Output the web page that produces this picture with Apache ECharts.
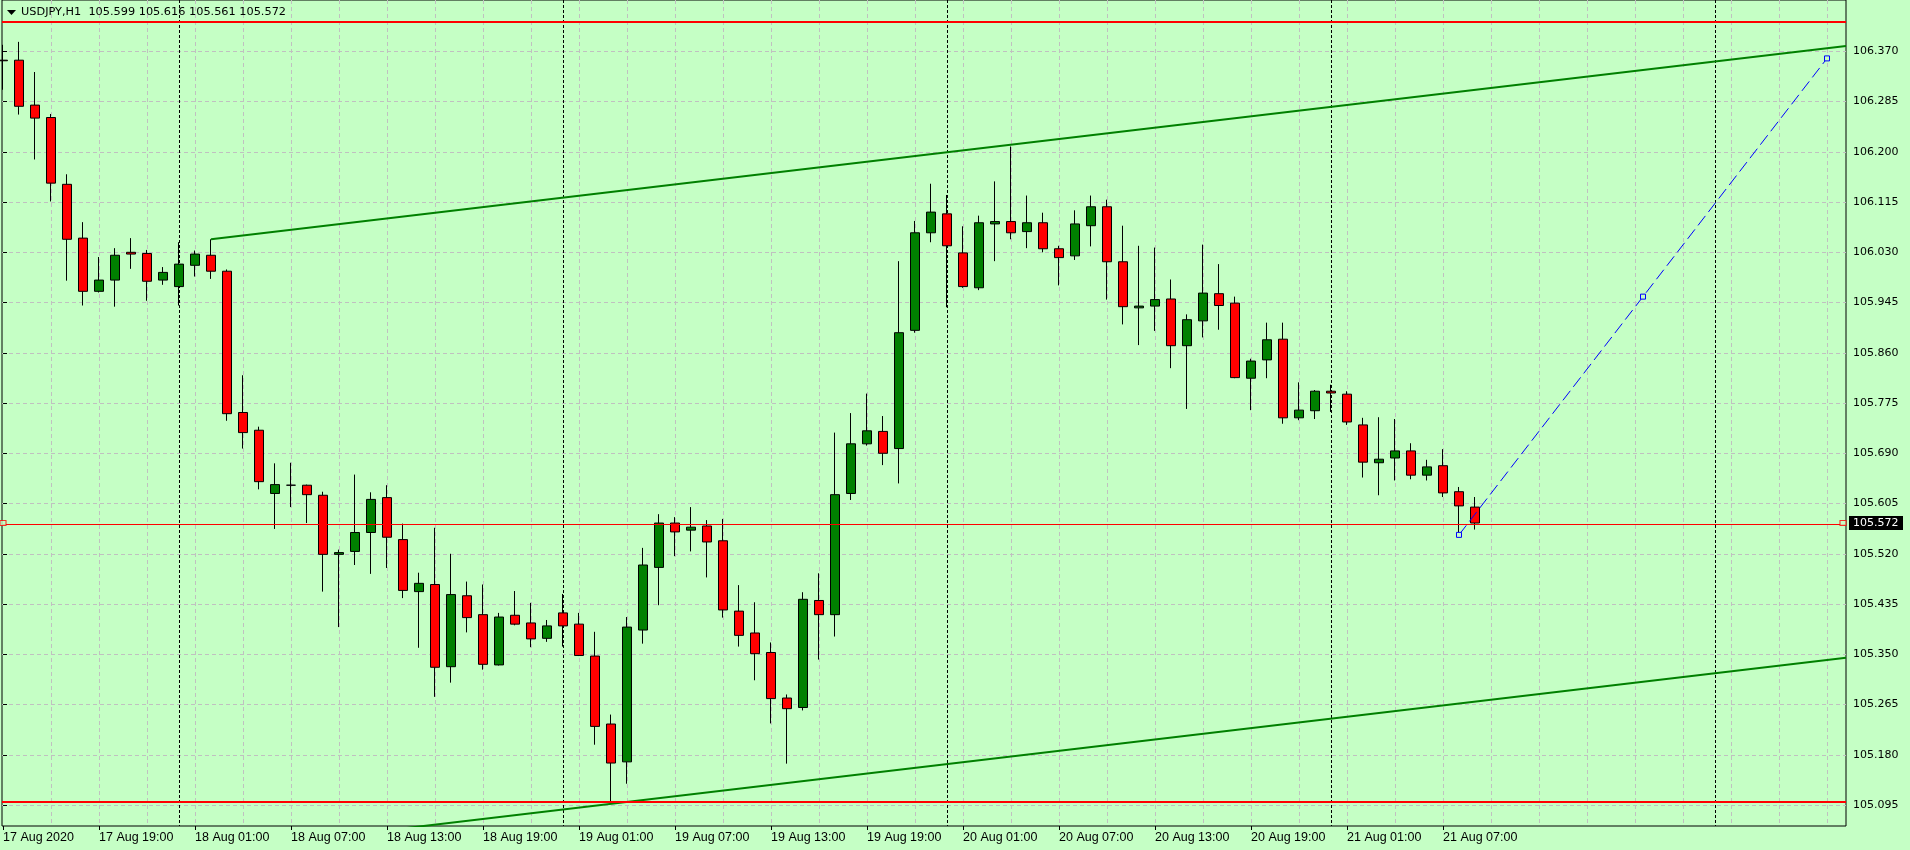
<!DOCTYPE html>
<html>
<head>
<meta charset="utf-8">
<script src="https://cdn.jsdelivr.net/npm/echarts@6/dist/echarts.min.js"></script>
<style>
html,body{margin:0;padding:0;background:#c5ffc5;}
#chart{width:1910px;height:850px;}
</style>
</head>
<body>
<div id="chart"></div>
<script>
// ---------- DATA ----------
const symbolName = 'USDJPY,H1';
// H1 bars, index 0 = 17 Aug 2020 13:00
const opens = [106.355,106.355,106.279,106.258,106.145,106.054,105.964,105.983,106.030,106.028,
105.983,105.972,106.008,106.025,105.998,105.759,105.729,105.622,105.636,105.636,
105.619,105.519,105.524,105.556,105.615,105.544,105.456,105.468,105.329,105.449,
105.417,105.332,105.416,105.403,105.377,105.420,105.401,105.347,105.232,105.168,
105.391,105.497,105.572,105.560,105.567,105.542,105.423,105.386,105.353,105.276,
105.260,105.441,105.417,105.622,105.706,105.727,105.698,105.898,106.063,106.095,
106.029,105.970,106.078,106.082,106.065,106.080,106.036,106.024,106.075,106.107,
106.014,105.936,105.939,105.951,105.872,105.914,105.960,105.944,105.817,105.848,
105.883,105.750,105.762,105.795,105.790,105.738,105.674,105.682,105.694,105.653,
105.669,105.625,105.599];
const highs = [106.381,106.386,106.335,106.264,106.162,106.081,106.022,106.037,106.054,106.034,
106.005,106.047,106.033,106.052,106.001,105.822,105.735,105.673,105.674,105.637,
105.625,105.527,105.654,105.624,105.636,105.571,105.488,105.564,105.520,105.473,
105.468,105.420,105.457,105.437,105.408,105.452,105.420,105.388,105.248,105.413,
105.530,105.587,105.582,105.599,105.577,105.579,105.467,105.438,105.370,105.282,
105.455,105.487,105.725,105.758,105.791,105.753,106.015,106.083,106.146,106.127,
106.074,106.092,106.150,106.209,106.126,106.097,106.041,106.101,106.126,106.119,
106.075,106.041,106.038,105.984,105.925,106.043,106.010,105.955,105.850,105.911,
105.911,105.810,105.797,105.806,105.795,105.750,105.751,105.748,105.707,105.679,
105.697,105.633,105.616];
const lows = [106.305,106.263,106.187,106.116,105.982,105.940,105.962,105.938,106.002,105.948,
105.975,105.940,105.989,105.985,105.745,105.698,105.629,105.562,105.599,105.572,
105.456,105.396,105.501,105.486,105.496,105.445,105.361,105.278,105.302,105.387,
105.324,105.331,105.399,105.362,105.371,105.363,105.347,105.197,105.097,105.131,
105.368,105.433,105.516,105.524,105.480,105.412,105.363,105.306,105.233,105.165,
105.255,105.341,105.380,105.611,105.703,105.670,105.639,105.894,106.047,105.937,
105.970,105.966,106.015,106.052,106.037,106.030,105.974,106.017,106.040,105.950,
105.908,105.873,105.897,105.834,105.765,105.886,105.899,105.817,105.763,105.817,
105.740,105.746,105.748,105.760,105.738,105.649,105.619,105.644,105.646,105.644,
105.616,105.552,105.561];
const closes = [106.354,106.277,106.257,106.147,106.052,105.964,105.983,106.025,106.027,105.981,
105.996,106.010,106.027,105.998,105.757,105.725,105.642,105.637,105.636,105.620,
105.519,105.522,105.556,105.612,105.548,105.458,105.470,105.328,105.451,105.412,
105.333,105.413,105.401,105.376,105.398,105.398,105.348,105.228,105.166,105.396,
105.501,105.572,105.557,105.565,105.540,105.425,105.382,105.351,105.275,105.258,
105.443,105.417,105.620,105.706,105.728,105.690,105.894,106.063,106.098,106.041,
105.972,106.080,106.082,106.063,106.080,106.036,106.021,106.078,106.107,106.014,
105.938,105.939,105.950,105.872,105.916,105.961,105.940,105.818,105.846,105.882,
105.750,105.763,105.795,105.792,105.743,105.675,105.680,105.694,105.653,105.667,
105.623,105.601,105.572];

// time axis labels (bar index -> label)
const tickBars = [0,6,12,18,24,30,36,42,48,54,60,66,72,78,84,90];
const tickLabels = ['17 Aug 2020','17 Aug 19:00','18 Aug 01:00','18 Aug 07:00','18 Aug 13:00',
  '18 Aug 19:00','19 Aug 01:00','19 Aug 07:00','19 Aug 13:00','19 Aug 19:00','20 Aug 01:00',
  '20 Aug 07:00','20 Aug 13:00','20 Aug 19:00','21 Aug 01:00','21 Aug 07:00'];
// vertical grid every 3 bars, day separators at 00:00 bars
const gridBars = [3,6,9,12,15,18,21,24,27,30,33,36,39,42,45,48,51,54,57,60,63,66,69,72,75,78,
  81,84,87,90,93,96,99,102,105,108,111,114];
const daySeparatorBars = [11,35,59,83,107];
// price scale labels
const priceTicks = [105.095,105.180,105.265,105.350,105.435,105.520,105.605,105.690,105.775,
  105.860,105.945,106.030,106.115,106.200,106.285,106.370];
// horizontal levels
const levelLines = [106.423, 105.097];
// channel (two parallel trend lines) and blue dashed trend line: [bar, price]
const channelUpper = [[13,106.052],[115.1875,106.379]];
const channelLower = [[13,105.017],[115.1875,105.344]];
const blueTrend = [[91,105.552],[102.5,105.955],[114,106.358]];
const priceLineEnds = [0, 115];

// ---------- CHART ----------
const BG = '#c5ffc5';
const X_MIN = -0.0625, X_MAX = 115.1875;
const Y_MIN = 105.0595, Y_MAX = 106.4568;
const last = opens.length - 1;
const lastClose = closes[last];
const candleData = opens.map((o, i) => [i, o, closes[i], lows[i], highs[i]]);
const titleText = symbolName + '  ' + [opens[last], highs[last], lows[last], closes[last]].map(v => v.toFixed(3)).join(' ');

const chart = echarts.init(document.getElementById('chart'), null, {renderer: 'canvas'});
const xBase = {type: 'value', min: X_MIN, max: X_MAX, gridIndex: 0};
chart.setOption({
  animation: false,
  backgroundColor: BG,
  title: {
    text: titleText, left: 21, top: 6, padding: 0,
    textStyle: {fontFamily: 'DejaVu Sans', fontSize: 11.3, fontWeight: 'normal', color: '#000', lineHeight: 13}
  },
  graphic: {elements: [
    {id: 'menuTri', type: 'polygon', shape: {points: [[7,10],[16,10],[11.5,15]]}, style: {fill: '#000'}, z: 100}
  ]},
  grid: {left: 2, top: 0, width: 1844, height: 826, show: true, borderColor: '#000', borderWidth: 1,
         backgroundColor: 'transparent', containLabel: false, outerBoundsMode: 'none'},
  xAxis: [
    Object.assign({}, xBase, {
      position: 'bottom',
      axisLine: {show: false},
      axisTick: {show: true, length: 4, customValues: tickBars, lineStyle: {color: '#000'}},
      axisLabel: {customValues: tickBars, align: 'left', margin: 5, color: '#000',
        fontFamily: 'Liberation Sans', fontSize: 12.5,
        formatter: v => { const k = tickBars.indexOf(Math.round(v)); return k >= 0 ? tickLabels[k] : ''; }},
      splitLine: {show: false}
    }),
    Object.assign({}, xBase, {
      position: 'bottom',
      axisLine: {show: false}, axisTick: {show: false, customValues: gridBars},
      axisLabel: {show: false},
      splitLine: {show: true, lineStyle: {color: '#c0c0c0', width: 1, type: [4, 3]}}
    }),
    Object.assign({}, xBase, {
      position: 'bottom',
      axisLine: {show: false}, axisTick: {show: false, customValues: daySeparatorBars},
      axisLabel: {show: false},
      splitLine: {show: true, lineStyle: {color: '#000', width: 1, type: [3, 2]}}
    })
  ],
  yAxis: {
    type: 'value', position: 'right', min: Y_MIN, max: Y_MAX,
    axisLine: {show: false},
    axisTick: {show: true, length: 4, customValues: priceTicks, lineStyle: {color: '#000'}},
    axisLabel: {customValues: priceTicks, formatter: v => v.toFixed(3), margin: 7, color: '#000',
      fontFamily: 'DejaVu Sans', fontSize: 11},
    splitLine: {show: true, lineStyle: {color: '#c0c0c0', width: 1, type: [4, 3]}}
  },
  series: [
    {
      type: 'candlestick', name: symbolName, xAxisIndex: 0, yAxisIndex: 0,
      data: candleData, barWidth: 9, clip: true, z: 2,
      itemStyle: {color: '#008000', color0: '#ff0000', borderColor: '#000', borderColor0: '#000',
                  borderColorDoji: '#000', borderWidth: 1},
      markLine: {
        silent: true, symbol: ['none', 'none'], animation: false,
        label: {show: false},
        data: [
          {yAxis: levelLines[0], lineStyle: {color: '#ff0000', width: 2, type: 'solid'}},
          {yAxis: levelLines[1], lineStyle: {color: '#ff0000', width: 2, type: 'solid'}},
          {yAxis: lastClose, lineStyle: {color: '#ff0000', width: 1, type: 'solid'}}
        ]
      }
    },
    {
      type: 'line', data: channelUpper, xAxisIndex: 0, yAxisIndex: 0, symbol: 'none', clip: true, z: 4,
      lineStyle: {color: '#008000', width: 2}
    },
    {
      type: 'line', data: channelLower, xAxisIndex: 0, yAxisIndex: 0, symbol: 'none', clip: true, z: 4,
      lineStyle: {color: '#008000', width: 2}
    },
    {
      type: 'line', data: blueTrend, xAxisIndex: 0, yAxisIndex: 0, symbol: 'rect', symbolSize: 5,
      showAllSymbol: true, clip: false, z: 5,
      lineStyle: {color: '#0000ff', width: 1, type: [12, 5]},
      itemStyle: {color: BG, borderColor: '#0000ff', borderWidth: 1}
    },
    {
      type: 'scatter', data: priceLineEnds.map(b => [b, lastClose]), xAxisIndex: 0, yAxisIndex: 0,
      symbol: 'rect', symbolSize: [6, 5], clip: false, z: 5,
      itemStyle: {color: BG, borderColor: '#ff0000', borderWidth: 1}
    }
  ]
});

// current price tag on the price scale, positioned through the y axis scale
const tagY = chart.convertToPixel({yAxisIndex: 0}, lastClose);
const tagX = chart.convertToPixel({xAxisIndex: 0}, X_MAX) + 3;
chart.setOption({graphic: {elements: [
  {id: 'priceTagBox', type: 'rect', shape: {x: tagX, y: Math.round(tagY) - 7, width: 54, height: 14},
   style: {fill: '#000'}, z: 100},
  {id: 'priceTagText', type: 'text', x: tagX + 4, y: Math.round(tagY),
   style: {text: lastClose.toFixed(3), fill: '#fff', font: '11px "DejaVu Sans"', textVerticalAlign: 'middle', textAlign: 'left'},
   z: 101}
]}});
</script>
</body>
</html>
